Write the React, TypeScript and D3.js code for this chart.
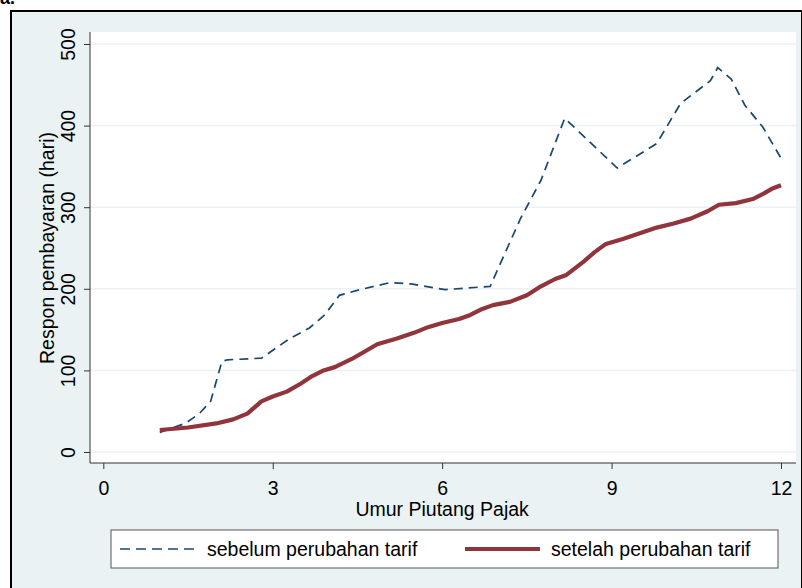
import * as d3 from 'd3';
import React, { useEffect, useRef } from 'react';

// umur piutang (bulan) dan respon pembayaran (hari)
const beforeX = [1.0, 1.45, 1.7, 1.9, 2.1, 2.2, 2.8, 3.05, 3.3, 3.65, 3.92, 4.18, 4.55, 5.07, 5.45, 6.05, 6.45, 6.85, 7.38, 7.75, 8.17, 9.1, 9.8, 10.22, 10.35, 10.75, 10.88, 11.12, 11.36, 11.68, 12.0];
const beforeY = [24, 35, 47, 62, 111, 113, 115, 127, 139, 152, 168, 192, 199, 207.5, 206, 199, 201, 203, 285, 333, 409, 348, 378, 427, 434, 455, 471, 457, 425, 398, 360];

const afterX = [1.0, 1.5, 2.0, 2.3, 2.55, 2.8, 3.0, 3.25, 3.5, 3.7, 3.9, 4.1, 4.4, 4.6, 4.85, 5.2, 5.5, 5.75, 6.0, 6.3, 6.5, 6.7, 6.9, 7.2, 7.5, 7.75, 8.0, 8.2, 8.5, 8.7, 8.9, 9.2, 9.5, 9.8, 10.1, 10.4, 10.7, 10.9, 11.2, 11.5, 11.7, 11.85, 12.0];
const afterY = [27, 30, 35, 40, 47, 62, 68, 74, 84, 93, 100, 104, 114, 122, 132, 139, 146, 153, 158, 163, 168, 175, 180, 184, 192, 203, 212, 217, 233, 245, 255, 261, 268, 275, 280, 286, 295, 303, 305, 310, 317, 323, 327];

const xTicks = [0, 3, 6, 9, 12];
const yTicks = [0, 100, 200, 300, 400, 500];
const legendLabels = ['sebelum perubahan tarif', 'setelah perubahan tarif'];

const W = 802;
const H = 588;
const bg = '#eaf2f3';
const navy = '#1a476f';
const maroon = '#90353b';
const font = '"Liberation Sans", Arial, sans-serif';
const fs = '19.5px';

const App = () => {
    const ref = useRef(null);

    useEffect(() => {
        const svg = d3.select(ref.current);
        svg.selectAll('*').remove();

        // plot area
        const left = 90, right = 796, top = 32, bottom = 463;
        const x = d3.scaleLinear().domain([0, 12]).range([103.3, 781]);
        const y = d3.scaleLinear().domain([0, 500]).range([452, 44]);

        // "a." label, mostly clipped at top
        svg.append('text')
            .attr('x', 0).attr('y', 4)
            .style('font-family', font).style('font-weight', 'bold').style('font-size', '18px')
            .text('a.');

        // outer frame
        svg.append('rect')
            .attr('x', 11).attr('y', 11)
            .attr('width', W - 11).attr('height', H - 10)
            .attr('fill', bg).attr('stroke', '#000').attr('stroke-width', 2);

        svg.append('rect')
            .attr('x', left).attr('y', top)
            .attr('width', right - left).attr('height', bottom - top)
            .attr('fill', '#fff');

        // grid
        svg.append('g').selectAll('line').data(yTicks).join('line')
            .attr('x1', left).attr('x2', right)
            .attr('y1', d => y(d)).attr('y2', d => y(d))
            .attr('stroke', bg).attr('stroke-width', 1.5);

        // axes
        const yAxis = svg.append('g')
            .attr('transform', `translate(${left},0)`)
            .call(d3.axisLeft(y).tickValues(yTicks).tickSize(6).tickPadding(8).tickSizeOuter(0));
        yAxis.select('.domain').attr('d', `M0,${top}V${bottom}`).attr('stroke', '#333');
        yAxis.selectAll('.tick line').attr('stroke', '#333');
        yAxis.selectAll('.tick text')
            .attr('x', 0).attr('dy', 0)
            .attr('transform', 'translate(-15,0) rotate(-90)')
            .attr('text-anchor', 'middle')
            .style('font-family', font).style('font-size', fs).attr('fill', '#000');

        const xAxis = svg.append('g')
            .attr('transform', `translate(0,${bottom})`)
            .call(d3.axisBottom(x).tickValues(xTicks).tickFormat(d3.format('d')).tickSize(6).tickPadding(6).tickSizeOuter(0));
        xAxis.select('.domain').attr('d', `M${left},0H${right}`).attr('stroke', '#333');
        xAxis.selectAll('.tick line').attr('stroke', '#333');
        xAxis.selectAll('.tick text')
            .attr('y', 32).attr('dy', 0)
            .style('font-family', font).style('font-size', fs).attr('fill', '#000');

        // axis titles
        svg.append('text')
            .attr('x', x(6)).attr('y', 516)
            .attr('text-anchor', 'middle')
            .style('font-family', font).style('font-size', fs)
            .text('Umur Piutang Pajak');
        svg.append('text')
            .attr('transform', `translate(54,${y(250)}) rotate(-90)`)
            .attr('text-anchor', 'middle')
            .style('font-family', font).style('font-size', fs)
            .text('Respon pembayaran (hari)');

        // lines
        const line = d3.line();
        const before = beforeX.map((v, i) => [x(v), y(beforeY[i])]);
        const after = afterX.map((v, i) => [x(v), y(afterY[i])]);

        svg.append('path')
            .attr('d', line(before))
            .attr('fill', 'none').attr('stroke', navy)
            .attr('stroke-width', 1.7).attr('stroke-dasharray', '9,6');

        svg.append('path')
            .attr('d', line(after))
            .attr('fill', 'none').attr('stroke', maroon)
            .attr('stroke-width', 4.2).attr('stroke-linejoin', 'round');

        // legend
        const lg = svg.append('g');
        lg.append('rect')
            .attr('x', 111).attr('y', 530)
            .attr('width', 667).attr('height', 38)
            .attr('fill', '#fff').attr('stroke', '#555').attr('stroke-width', 1);
        lg.append('line')
            .attr('x1', 120).attr('x2', 196).attr('y1', 549).attr('y2', 549)
            .attr('stroke', navy).attr('stroke-width', 1.7).attr('stroke-dasharray', '10,6');
        lg.append('line')
            .attr('x1', 465).attr('x2', 540).attr('y1', 549).attr('y2', 549)
            .attr('stroke', maroon).attr('stroke-width', 4.2);
        lg.selectAll('text.lab').data(legendLabels).join('text')
            .attr('class', 'lab')
            .attr('x', (d, i) => (i === 0 ? 207 : 551))
            .attr('y', 556)
            .style('font-family', font).style('font-size', fs)
            .text(d => d);
    }, []);

    return (
        <svg ref={ref} width={W} height={H}
            style={{ position: 'absolute', left: 0, top: 0, display: 'block', background: '#fff' }} />
    );
};

export default App;
